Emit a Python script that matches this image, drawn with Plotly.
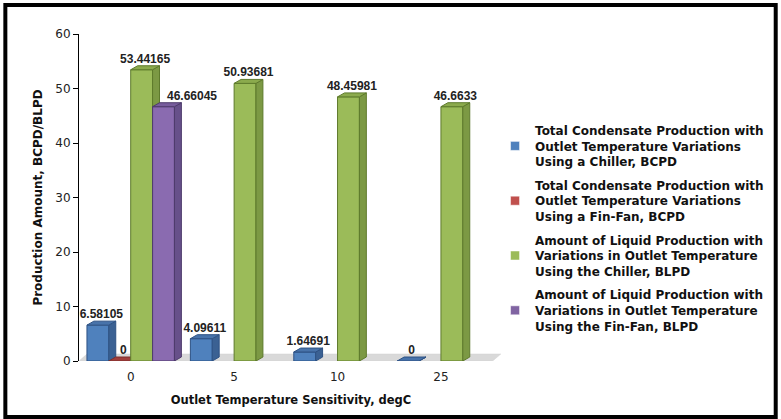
import plotly.graph_objects as go

# ---------------- data ----------------
categories = ["0", "5", "10", "25"]
series_names = [
    "Total Condensate Production with<br>Outlet Temperature Variations<br>Using a Chiller, BCPD",
    "Total Condensate Production with<br>Outlet Temperature Variations<br>Using a Fin-Fan, BCPD",
    "Amount of Liquid Production with<br>Variations in Outlet Temperature<br>Using the Chiller, BLPD",
    "Amount of Liquid Production with<br>Variations in Outlet Temperature<br>Using the Fin-Fan, BLPD",
]
chiller_condensate = [6.58105, 4.09611, 1.64691, 0]
finfan_condensate = [0, None, None, None]
chiller_liquid = [53.44165, 50.93681, 48.45981, 46.6633]
finfan_liquid = [46.66045, None, None, None]
series_values = [chiller_condensate, finfan_condensate, chiller_liquid, finfan_liquid]

# ---------------- styles ----------------
front_colors = ["#4F81BD", "#C0504D", "#9BBB59", "#8A6BB0"]
side_colors = ["#3B6193", "#953B38", "#7C9944", "#67508A"]
top_colors = ["#4873AA", "#A13F3C", "#8BAA4D", "#775C9C"]
edge_colors = ["#2E5284", "#7E2F2D", "#5E7A2C", "#4E3B6C"]
legend_colors = ["#4F81BD", "#C0504D", "#9BBB59", "#8064A2"]
label_positions = ["top center", "top center", "top center", "top right"]

BAR_W = 0.2115
DX = 0.067
DY = 0.73
FLOOR_DX = 0.078
FLOOR_DY = 1.28

fig = go.Figure()

# floor
fig.add_trace(go.Scatter(
    x=[-0.5, 3.5, 3.5 + FLOOR_DX, -0.5 + FLOOR_DX, -0.5],
    y=[0, 0, FLOOR_DY, FLOOR_DY, 0],
    fill="toself", fillcolor="#D9D9D9", mode="lines",
    line=dict(color="#D0D0D0", width=0.5),
    showlegend=False, hoverinfo="skip"))


def join(polys):
    xs, ys = [], []
    for px, py in polys:
        xs += px + [None]
        ys += py + [None]
    return xs, ys


label_x, label_y, label_t, label_p = [], [], [], []
for j, vals in enumerate(series_values):
    off = (j - 1.5) * BAR_W
    fronts, sides, tops = [], [], []
    for i, v in enumerate(vals):
        if v is None:
            continue
        x0 = i + off - BAR_W / 2
        x1 = x0 + BAR_W
        fronts.append(([x0, x1, x1, x0, x0], [0, 0, v, v, 0]))
        sides.append(([x1, x1 + DX, x1 + DX, x1, x1], [0, DY, v + DY, v, 0]))
        tops.append(([x0, x1, x1 + DX, x0 + DX, x0], [v, v, v + DY, v + DY, v]))
        label_x.append(i + off + DX / 2)
        label_y.append(v + DY)
        label_t.append(str(v))
        label_p.append(label_positions[j])
    for polys, col in ((fronts, front_colors[j]), (sides, side_colors[j]), (tops, top_colors[j])):
        xs, ys = join(polys)
        fig.add_trace(go.Scatter(
            x=xs, y=ys, fill="toself", fillcolor=col, mode="lines",
            line=dict(color=edge_colors[j], width=1),
            showlegend=False, hoverinfo="skip"))

# data labels
fig.add_trace(go.Scatter(
    x=label_x, y=label_y, text=label_t, mode="text",
    textposition=label_p,
    textfont=dict(family="Liberation Sans", size=12, color="#222222", weight="bold"),
    showlegend=False, hoverinfo="skip", cliponaxis=False))

# legend entries
for j, name in enumerate(series_names):
    fig.add_trace(go.Scatter(
        x=[None], y=[None], mode="markers", name=name,
        legendgroup=f"g{j}",
        marker=dict(symbol="square", size=9, color=legend_colors[j],
                    line=dict(color="#ffffff", width=0.5))))

W, H = 781, 419
L, R, T, B = 79, 276, 34, 58
PW, PH = W - L - R, H - T - B


def px_to_paper_x(px):
    return (px - L) / PW


def px_to_paper_y(py):
    return (H - B - py) / PH


fig.update_layout(
    width=W, height=H,
    margin=dict(l=L, r=R, t=T, b=B, pad=0),
    paper_bgcolor="white", plot_bgcolor="white",
    font=dict(family="DejaVu Sans", color="#111111"),
    xaxis=dict(
        range=[-0.5, 3.6], tickmode="array", tickvals=[0, 1, 2, 3], ticktext=categories,
        showgrid=False, zeroline=False, showline=False, ticks="",
        ticklabelstandoff=7,
        tickfont=dict(family="DejaVu Sans", size=12, color="#222222"),
        title=dict(text="Outlet Temperature Sensitivity, degC", standoff=12,
                   font=dict(family="DejaVu Sans", size=11.5, weight="bold", color="#111111")),
        fixedrange=True,
    ),
    yaxis=dict(
        range=[0, 60], tickvals=[0, 10, 20, 30, 40, 50, 60],
        showgrid=False, zeroline=False, showline=True, linecolor="#000000", linewidth=1,
        ticks="outside", ticklen=5, tickcolor="#000000",
        tickfont=dict(family="DejaVu Sans", size=12, color="#222222"),
        title=dict(text="Production Amount, BCPD/BLPD", standoff=10,
                   font=dict(family="DejaVu Sans", size=12, weight="bold", color="#111111")),
        fixedrange=True,
    ),
    legend=dict(
        x=px_to_paper_x(497), y=px_to_paper_y(116), xanchor="left", yanchor="top",
        font=dict(family="DejaVu Sans", size=12, weight="bold", color="#111111"),
        bgcolor="rgba(0,0,0,0)", tracegroupgap=5, itemwidth=30,
    ),
    shapes=[dict(
        type="rect", xref="paper", yref="paper",
        x0=px_to_paper_x(5), x1=px_to_paper_x(779),
        y0=px_to_paper_y(417), y1=px_to_paper_y(5),
        line=dict(color="#000000", width=4), fillcolor="rgba(0,0,0,0)", layer="above")],
    showlegend=True,
)

fig.write_html("out.html", config={"displayModeBar": False},
               post_script="document.body.style.margin='0px';document.body.style.overflow='hidden';")
